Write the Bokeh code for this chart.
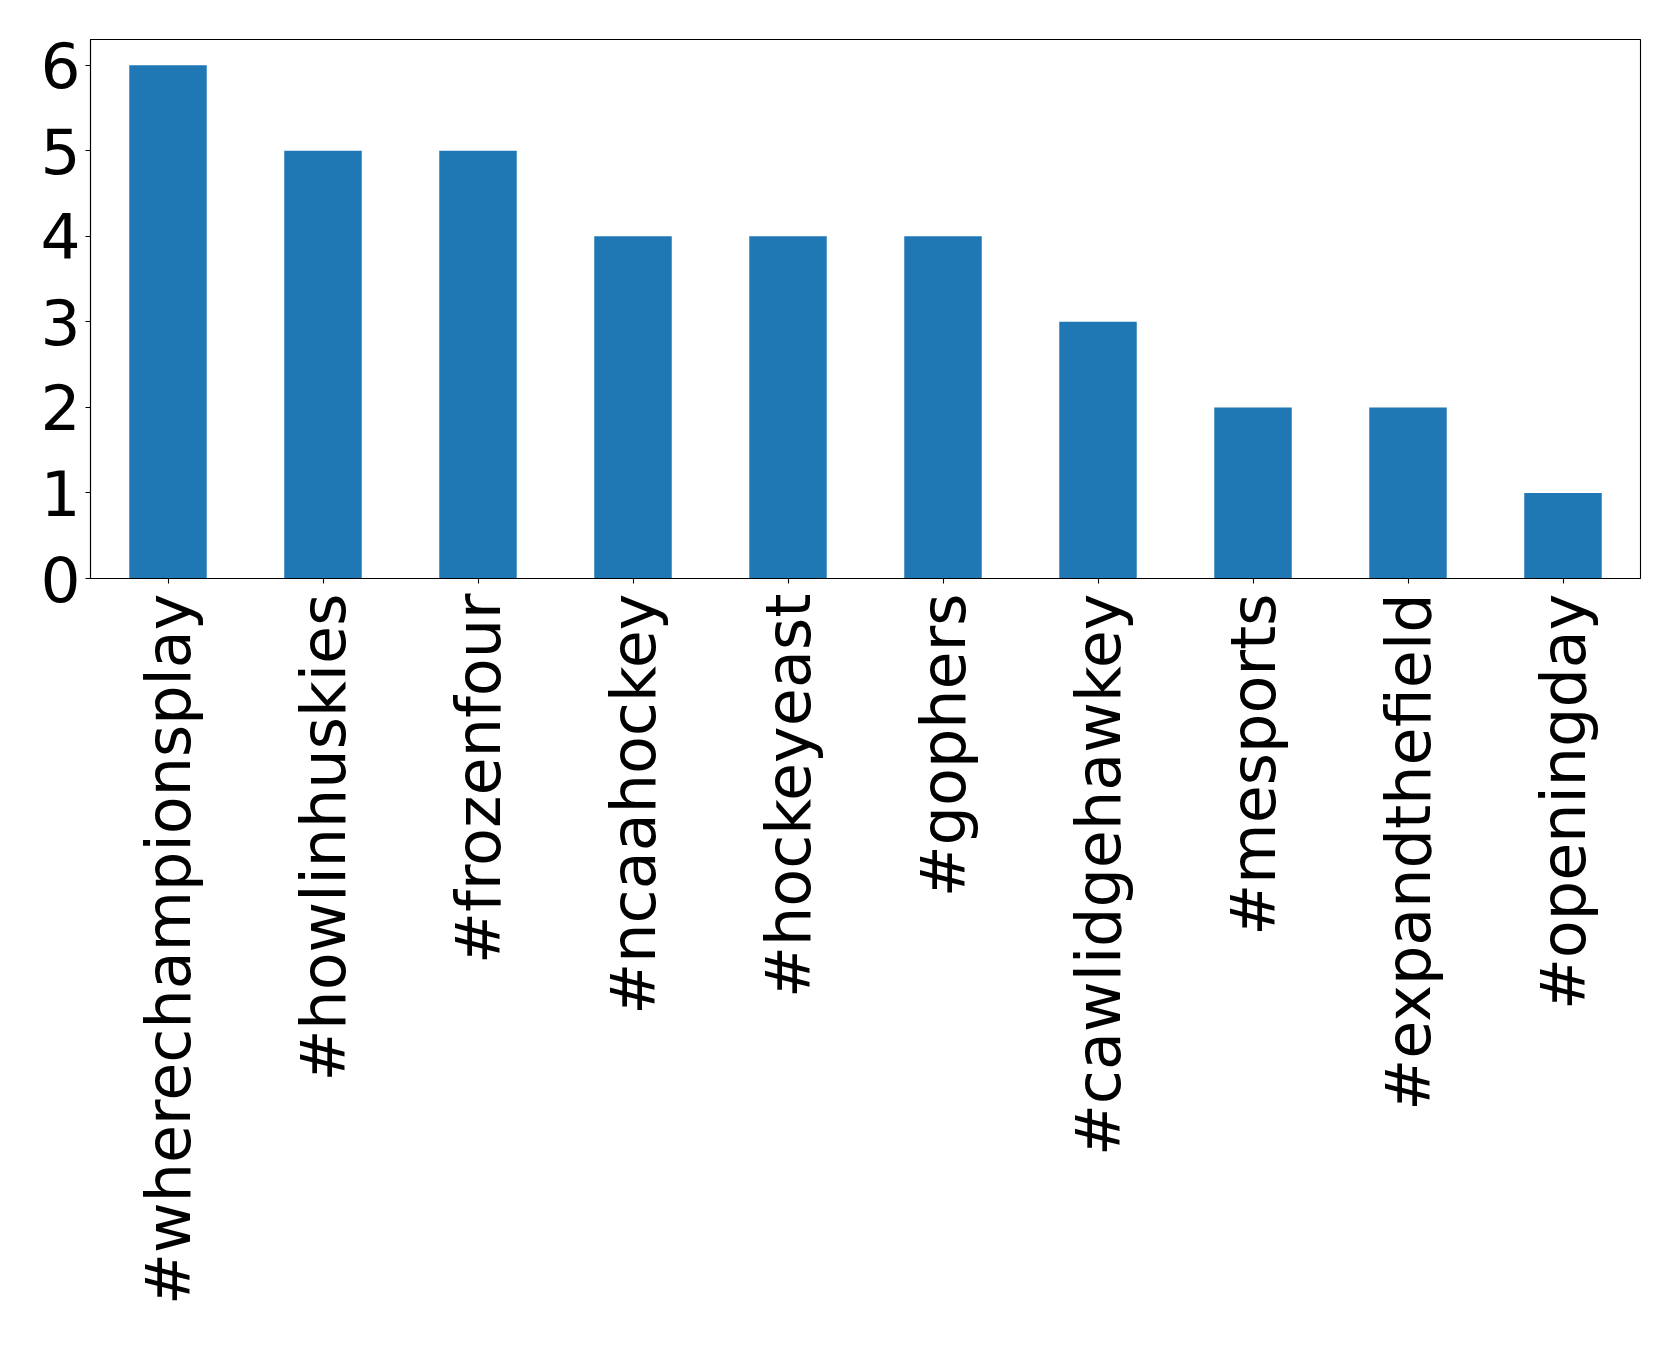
from bokeh.plotting import figure
from bokeh.models import FactorRange, Range1d, FixedTicker, ColumnDataSource
from bokeh.embed import file_html
from bokeh.resources import INLINE
import math

hashtags = ["#wherechampionsplay", "#howlinhuskies", "#frozenfour", "#ncaahockey",
            "#hockeyeast", "#gophers", "#cawlidgehawkey", "#mesports",
            "#expandthefield", "#openingday"]
counts = [6, 5, 5, 4, 4, 4, 3, 2, 2, 1]
y_ticks = [0, 1, 2, 3, 4, 5, 6]

src = ColumnDataSource(dict(tag=hashtags, n=counts))

p = figure(x_range=FactorRange(*hashtags, range_padding=0), y_range=Range1d(0, 6.3),
           frame_width=1550, frame_height=539,
           min_border_left=90, min_border_top=39, min_border_right=25, min_border_bottom=10,
           output_backend="svg", toolbar_location=None)

p.vbar(x="tag", top="n", width=0.5, source=src, color="#1f77b4", line_color=None)

p.xgrid.visible = False
p.ygrid.visible = False
p.outline_line_color = "black"
p.outline_line_width = 1.1
p.background_fill_color = "white"
p.border_fill_color = "white"

for ax in (p.xaxis[0], p.yaxis[0]):
    ax.major_label_text_font = "DejaVu Sans"
    ax.major_label_text_font_size = "63px"
    ax.major_label_text_color = "black"
    ax.major_tick_out = 5
    ax.major_tick_in = 0
    ax.minor_tick_out = 0
    ax.minor_tick_in = 0
    ax.major_label_standoff = 5
    ax.axis_line_color = "black"
    ax.axis_line_width = 1.1
    ax.major_tick_line_color = "black"
    ax.major_tick_line_width = 1.1

p.xaxis.major_label_text_font_size = "62px"
p.xaxis.major_label_standoff = 10
p.yaxis.ticker = FixedTicker(ticks=y_ticks)
p.xaxis.major_label_orientation = math.pi / 2

open("out.html", "w").write(file_html(p, INLINE))
